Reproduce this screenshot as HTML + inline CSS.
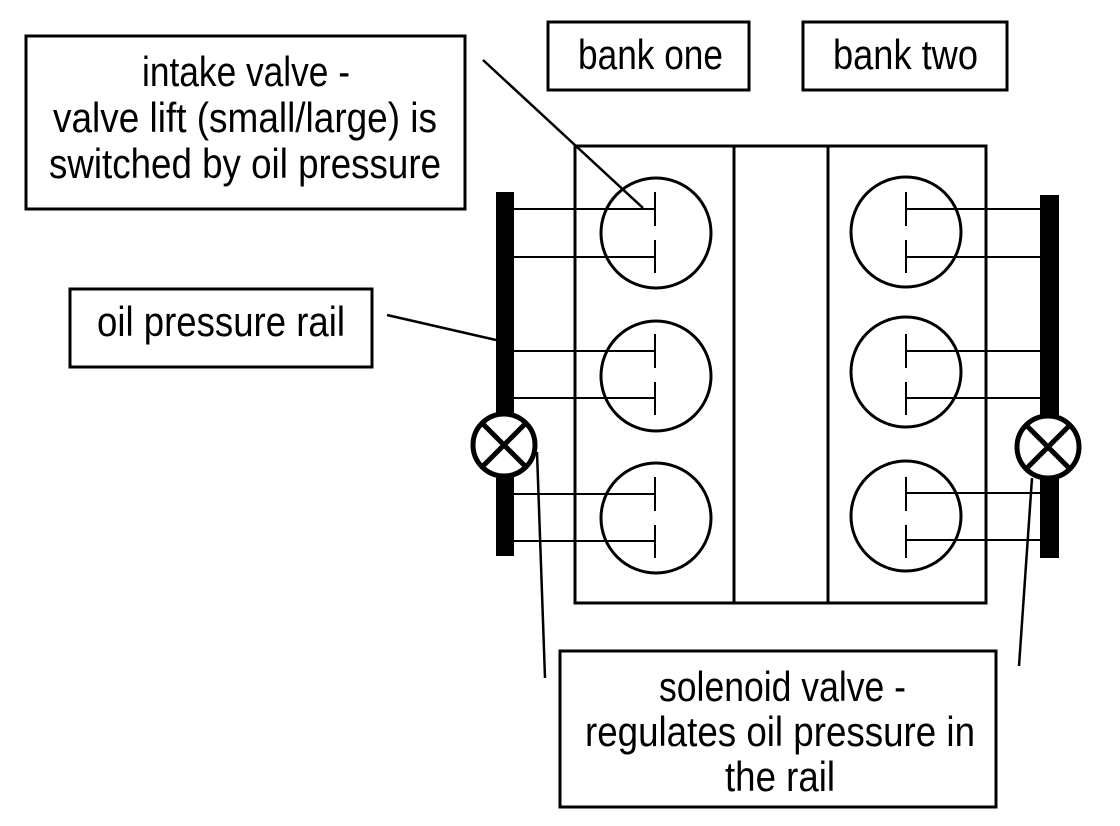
<!DOCTYPE html>
<html><head><meta charset="utf-8"><style>html,body{margin:0;padding:0;background:#fff}svg{display:block}</style></head>
<body>
<svg width="1120" height="826" viewBox="0 0 1120 826" xmlns="http://www.w3.org/2000/svg" font-family="Liberation Sans, sans-serif" font-size="42" fill="none" stroke="#000">
<rect x="575" y="146" width="411" height="457" stroke-width="3"/>
<line x1="734" y1="146" x2="734" y2="603" stroke-width="3"/>
<line x1="828" y1="146" x2="828" y2="603" stroke-width="3"/>
<g stroke-width="3">
<circle cx="656" cy="233" r="55"/><circle cx="656" cy="376" r="55"/><circle cx="656" cy="518" r="55"/>
<circle cx="906" cy="232" r="55"/><circle cx="906" cy="372" r="55"/><circle cx="906" cy="516" r="55"/>
</g>
<g stroke-width="2">
<path d="M655 192V226M655 240V273M655 334V368M655 382V415M655 477V511M655 525V558"/>
<path d="M514 209H655M514 257H655M514 351H655M514 398H655M514 494H655M514 541H655"/>
<path d="M906 192V226M906 240V273M906 334V368M906 382V415M906 477V511M906 525V558"/>
<path d="M906 209H1040M906 257H1040M906 351H1040M906 398H1040M906 493H1040M906 540H1040"/>
</g>
<rect x="496" y="192" width="18" height="364" fill="#000" stroke="none"/>
<rect x="1040" y="195" width="19" height="363" fill="#000" stroke="none"/>
<g stroke-width="5">
<circle cx="504" cy="445" r="31" fill="#fff"/>
<path d="M482 423L526 467M526 423L482 467"/>
<circle cx="1048" cy="447" r="31" fill="#fff"/>
<path d="M1026 425L1070 469M1070 425L1026 469"/>
</g>
<g stroke-width="2.5">
<line x1="483" y1="60" x2="643" y2="208"/>
<line x1="387" y1="315" x2="496" y2="340"/>
<line x1="537" y1="452" x2="545" y2="678"/>
<line x1="1032" y1="478" x2="1019" y2="666"/>
</g>
<g stroke-width="3" fill="#fff">
<rect x="26" y="36" width="439" height="173"/>
<rect x="548" y="22" width="201" height="68"/>
<rect x="803" y="22" width="204" height="68"/>
<rect x="70" y="289" width="302" height="78"/>
<rect x="560" y="651" width="436" height="156"/>
</g>
<g fill="#000" stroke="none">
<text x="142" y="86" textLength="208" lengthAdjust="spacingAndGlyphs">intake valve -</text>
<text x="53" y="132" textLength="384" lengthAdjust="spacingAndGlyphs">valve lift (small/large) is</text>
<text x="49" y="178" textLength="392" lengthAdjust="spacingAndGlyphs">switched by oil pressure</text>
<text x="97" y="336" textLength="248" lengthAdjust="spacingAndGlyphs">oil pressure rail</text>
<text x="578" y="69" textLength="145" lengthAdjust="spacingAndGlyphs">bank one</text>
<text x="833" y="69" textLength="145" lengthAdjust="spacingAndGlyphs">bank two</text>
<text x="659" y="701" textLength="247" lengthAdjust="spacingAndGlyphs">solenoid valve -</text>
<text x="585" y="746" textLength="390" lengthAdjust="spacingAndGlyphs">regulates oil pressure in</text>
<text x="725" y="791" textLength="110" lengthAdjust="spacingAndGlyphs">the rail</text>
</g>
</svg>
</body></html>
